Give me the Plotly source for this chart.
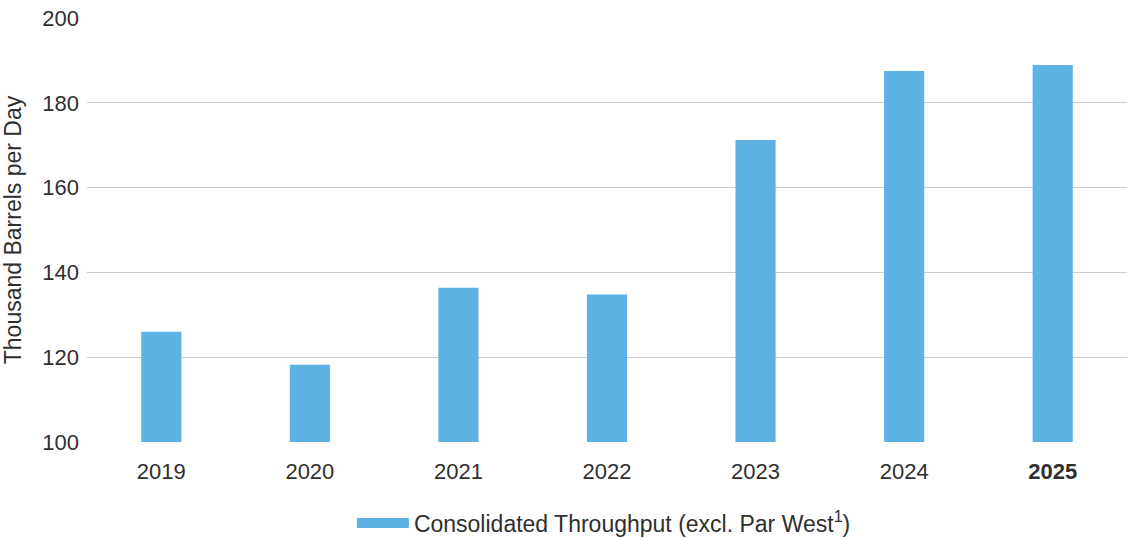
import plotly.graph_objects as go

years = ["2019", "2020", "2021", "2022", "2023", "2024", "2025"]
tick_labels = ["2019", "2020", "2021", "2022", "2023", "2024", "<b>2025</b>"]
throughput = [126.0, 118.2, 136.4, 134.8, 171.2, 187.5, 188.9]
y_ticks = [100, 120, 140, 160, 180, 200]
series_name = "Consolidated Throughput (excl. Par West<sup>1</sup>)"
bar_color = "#5DB1E3"

font = "Liberation Sans, Arial, sans-serif"
txt = "#2f2f2f"

fig = go.Figure()
fig.add_trace(go.Bar(
    x=years, y=throughput, name=series_name, showlegend=False,
    legendgroup="g",
    marker=dict(color=bar_color, line=dict(width=0)),
))
# legend entry drawn as a wide swatch
fig.add_trace(go.Scatter(
    x=[None], y=[None], mode="lines", name=series_name, legendgroup="g",
    line=dict(color=bar_color, width=15), hoverinfo="skip",
))

fig.update_layout(
    width=1130, height=538,
    paper_bgcolor="white", plot_bgcolor="white",
    margin=dict(l=87, r=3, t=18, b=96, autoexpand=False),
    bargap=0.73,
    font=dict(family=font, size=22, color=txt),
    showlegend=True,
    legend=dict(orientation="h", x=0.497, xanchor="center",
                yref="container", y=0.028, yanchor="middle",
                itemwidth=52,
                font=dict(size=23, color=txt)),
    xaxis=dict(tickmode="array", tickvals=years, ticktext=tick_labels,
               showgrid=False, showline=False, ticks="",
               ticklabelstandoff=14,
               tickfont=dict(size=22, color=txt)),
    yaxis=dict(range=[100, 200], tickvals=y_ticks, showgrid=True,
               gridcolor="#cccccc", gridwidth=1, zeroline=False, showline=False,
               ticks="", ticklabelstandoff=7,
               tickfont=dict(size=22, color=txt),
               title=dict(text="Thousand Barrels per Day", standoff=15,
                          font=dict(size=23, color=txt))),
)

fig.write_html("out.html", config={"displayModeBar": False})

# remove the default page margin so the figure sits at the window's corner
with open("out.html", "r", encoding="utf-8") as f:
    html = f.read()
html = html.replace("<head>", "<head><style>html,body{margin:0;padding:0;overflow:hidden;}</style>", 1)
with open("out.html", "w", encoding="utf-8") as f:
    f.write(html)
